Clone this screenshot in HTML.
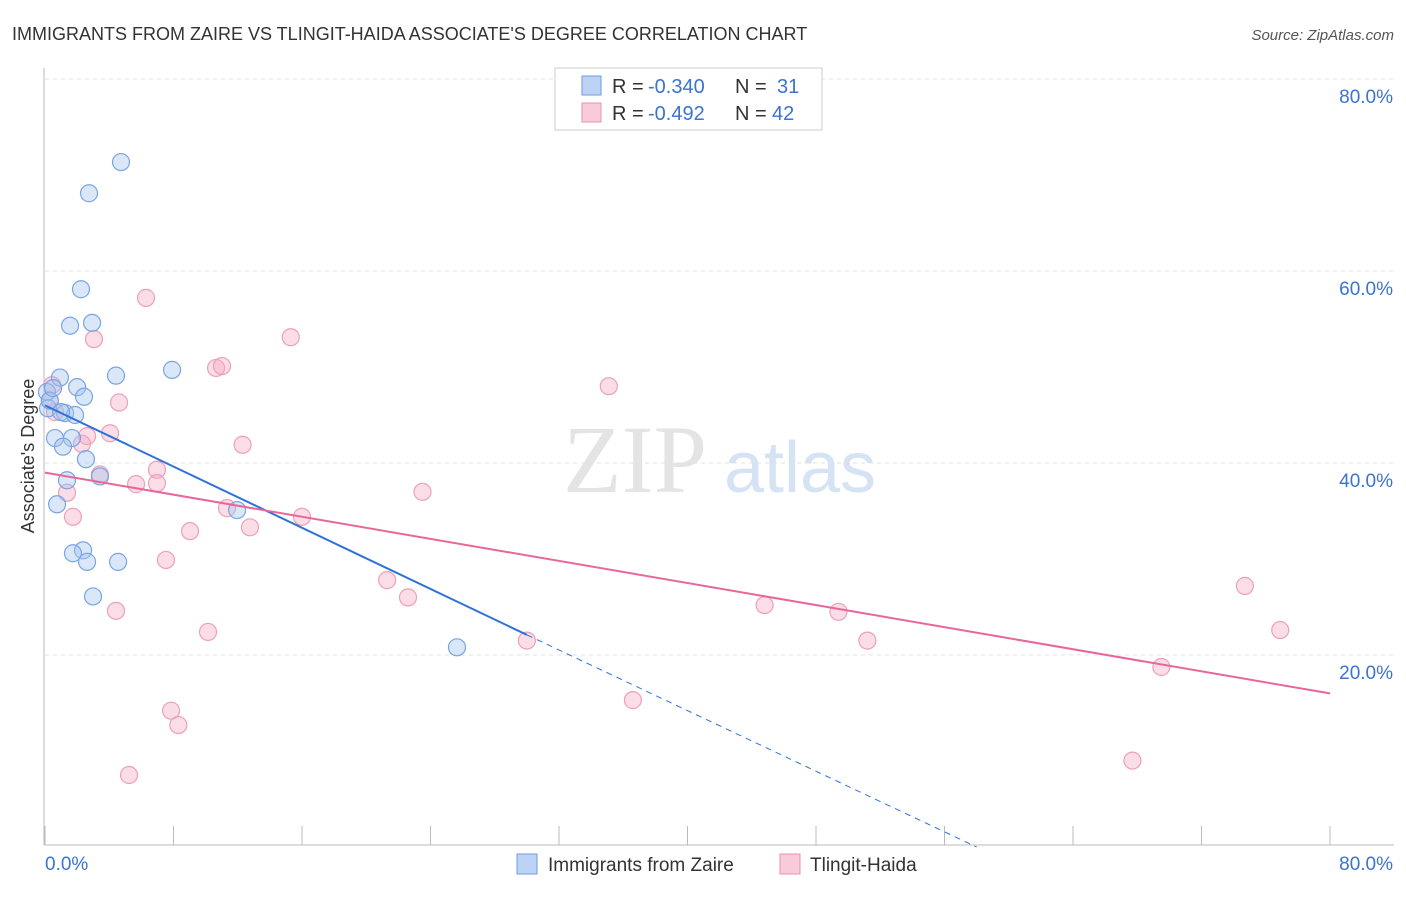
<!DOCTYPE html>
<html><head><meta charset="utf-8"><style>
body{margin:0;background:#fff;font-family:"Liberation Sans",sans-serif}
</style></head><body>
<svg id="c" width="1406" height="892" xmlns="http://www.w3.org/2000/svg">
<text x="12" y="40" font-size="18" fill="#333">IMMIGRANTS FROM ZAIRE VS TLINGIT-HAIDA ASSOCIATE'S DEGREE CORRELATION CHART</text>
<text x="1394" y="40" font-size="15" fill="#555" font-style="italic" text-anchor="end">Source: ZipAtlas.com</text>
<text x="635" y="492" font-size="96" fill="#e4e4e4" font-family="Liberation Serif" text-anchor="middle">ZIP</text>
<text x="800" y="492" font-size="72" fill="#d5e3f5" text-anchor="middle">atlas</text>
<g id="grid"></g><g id="axes"></g><g id="pts"></g><g id="trend"></g>
<text transform="translate(34,456) rotate(-90)" font-size="18" fill="#333" text-anchor="middle">Associate's Degree</text>
<g font-size="20">
<rect x="555" y="68" width="267" height="62" fill="#fff" stroke="#ccc"/>
<rect x="582" y="76" width="19" height="19" fill="#bcd3f5" stroke="#6f9be0"/>
<text x="612" y="93" fill="#333">R =</text><text x="648" y="93" fill="#3a73d0">-0.340</text>
<text x="735" y="93" fill="#333">N =</text><text x="777" y="93" fill="#3a73d0">31</text>
<rect x="582" y="103" width="19" height="19" fill="#f9cad8" stroke="#ea92ac"/>
<text x="612" y="120" fill="#333">R =</text><text x="648" y="120" fill="#3a73d0">-0.492</text>
<text x="735" y="120" fill="#333">N =</text><text x="772" y="120" fill="#3a73d0">42</text>
</g>
<g>
<rect x="517" y="854" width="20" height="20" fill="#bcd3f5" stroke="#6f9be0"/>
<text x="548" y="871" font-size="19" fill="#333">Immigrants from Zaire</text>
<rect x="780" y="854" width="20" height="20" fill="#f9cad8" stroke="#ea92ac"/>
<text x="810" y="871" font-size="19" fill="#333">Tlingit-Haida</text>
</g>
</svg>
<script>
const yTicks=[20,40,60,80];
const yTickLabels=["20.0%","40.0%","60.0%","80.0%"];
const blueX=[4.73,2.74,2.24,1.56,2.93,7.91,4.42,0.93,2.0,2.43,0.12,1.25,1.87,0.62,1.68,1.12,2.55,3.42,1.37,0.75,11.96,2.37,1.74,2.62,4.55,2.99,25.65,0.19,0.3,1.0,0.5];
const blueY=[71.35,68.1,58.1,54.3,54.6,49.7,49.1,48.9,47.9,46.9,47.4,45.2,45.0,42.6,42.6,41.7,40.4,38.6,38.2,35.7,35.1,30.9,30.6,29.7,29.7,26.1,20.8,45.7,46.5,45.3,47.8];
const pinkX=[6.29,3.05,15.3,10.65,11.02,35.1,4.61,0.44,0.62,2.62,4.05,2.3,12.3,6.97,3.42,5.67,6.97,1.37,23.5,11.33,1.74,16.0,12.76,9.03,7.53,21.3,22.6,4.42,44.8,49.4,10.15,30.0,51.2,74.7,76.9,69.5,36.6,7.85,8.3,67.7,5.23,0.3];
const pinkY=[57.2,52.9,53.1,49.9,50.1,48.0,46.3,48.1,45.3,42.8,43.1,42.0,41.9,39.3,38.8,37.8,37.9,36.9,37.0,35.3,34.4,34.4,33.3,32.9,29.9,27.8,26.0,24.6,25.2,24.5,22.4,21.5,21.5,27.2,22.6,18.75,15.3,14.2,12.7,9.0,7.5,46.5];
const blueTrend=[[0,46.0],[30,22.1],[58,0]];
const pinkTrend=[[0,39.0],[80,16.0]];
const X=v=>45+v*1285/80, Y=v=>847-v*9.6;
const NS="http://www.w3.org/2000/svg";
function mk(p,t,a){const e=document.createElementNS(NS,t);for(const k in a)e.setAttribute(k,a[k]);document.getElementById(p).appendChild(e);return e;}
yTicks.forEach((t,i)=>{
 const g=mk('grid','line',{x1:45,x2:1394,y1:Y(t),y2:Y(t),stroke:'#e2e2e2','stroke-dasharray':'4,4'});
 
 
 const l=mk('grid','text',{x:1393,y:Y(t)+24,'font-size':19,fill:'#3a73d0','text-anchor':'end'});
 l.textContent=yTickLabels[i];
 
 
});
let a=mk('axes','line',{x1:44,x2:44,y1:68,y2:845,stroke:'#bbb'});


a=mk('axes','line',{x1:44,x2:1394,y1:845,y2:845,stroke:'#bbb'});


for(let i=0;i<=10;i++){const t=mk('axes','line',{x1:X(i*8),x2:X(i*8),y1:826,y2:845,stroke:'#bbb'});
 
 }
let xl=mk('axes','text',{x:45,y:870,'font-size':19,fill:'#3a73d0'});xl.textContent='0.0%';


xl=mk('axes','text',{x:1393,y:870,'font-size':19,fill:'#3a73d0','text-anchor':'end'});xl.textContent='80.0%';


pinkX.forEach((x,i)=>{const c=mk('pts','circle',{cx:X(x),cy:Y(pinkY[i]),r:8.5,fill:'rgba(246,170,195,0.4)',stroke:'#eda0b8','stroke-width':1.2});
 
 });
blueX.forEach((x,i)=>{const c=mk('pts','circle',{cx:X(x),cy:Y(blueY[i]),r:8.5,fill:'rgba(160,195,240,0.4)',stroke:'#7aa5e3','stroke-width':1.2});
 
 });
let bt=mk('trend','line',{x1:X(blueTrend[0][0]),y1:Y(blueTrend[0][1]),x2:X(blueTrend[1][0]),y2:Y(blueTrend[1][1]),stroke:'#2f72d6','stroke-width':2});


bt=mk('trend','line',{x1:X(blueTrend[1][0]),y1:Y(blueTrend[1][1]),x2:X(blueTrend[2][0]),y2:Y(blueTrend[2][1]),stroke:'#2f72d6','stroke-width':1,'stroke-dasharray':'6,5'});


const pt=mk('trend','line',{x1:X(pinkTrend[0][0]),y1:Y(pinkTrend[0][1]),x2:X(pinkTrend[1][0]),y2:Y(pinkTrend[1][1]),stroke:'#e8679a','stroke-width':2});


</script>
</body></html>
